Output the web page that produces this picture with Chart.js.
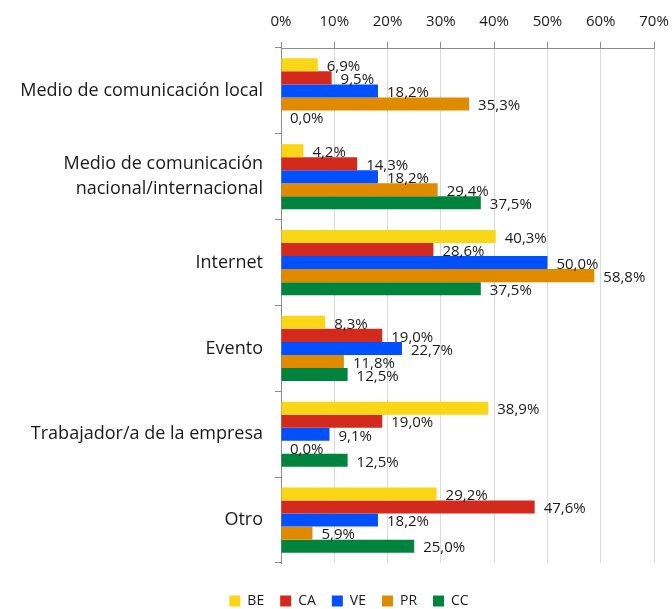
<!DOCTYPE html>
<html lang="es">
<head>
    <meta charset="UTF-8">
    <title>Medios</title>
    <script src="https://cdn.jsdelivr.net/npm/chart.js"></script>
    <style>
        body {
            margin: 0;
            background-color: #ffffff;
        }
        canvas {
            display: block;
        }
    </style>
</head>
<body>
    <canvas id="mediosChart" width="672" height="609"></canvas>

    <script>
        // categories (y axis)
        const categories = [
            'Medio de comunicación local',
            ['Medio de comunicación', 'nacional/internacional'],
            'Internet',
            'Evento',
            'Trabajador/a de la empresa',
            'Otro'
        ];

        // series values (%)
        const beValues = [6.9, 4.2, 40.3, 8.3, 38.9, 29.2];
        const caValues = [9.5, 14.3, 28.6, 19.0, 19.0, 47.6];
        const veValues = [18.2, 18.2, 50.0, 22.7, 9.1, 18.2];
        const prValues = [35.3, 29.4, 58.8, 11.8, 0.0, 5.9];
        const ccValues = [0.0, 37.5, 37.5, 12.5, 12.5, 25.0];

        const seriesNames = ['BE', 'CA', 'VE', 'PR', 'CC'];
        const seriesColors = ['#f9d616', '#d42a1e', '#0050ff', '#e08a00', '#00843d'];

        // x axis ticks
        const xTickMax = 70;
        const xTickStep = 10;

        const fontFamily = "'Open Sans', 'Noto Sans', sans-serif";

        // draws "6,9%" style labels at the end of each bar
        const barValueLabels = {
            id: 'barValueLabels',
            afterDatasetsDraw(chart) {
                const ctx = chart.ctx;
                ctx.save();
                ctx.font = '15px ' + fontFamily;
                ctx.fillStyle = '#1a1a1a';
                ctx.textAlign = 'left';
                ctx.textBaseline = 'middle';
                chart.data.datasets.forEach((ds, i) => {
                    const meta = chart.getDatasetMeta(i);
                    meta.data.forEach((bar, j) => {
                        const txt = ds.data[j].toFixed(1).replace('.', ',') + '%';
                        ctx.fillText(txt, bar.x + 9, bar.y + 2);
                    });
                });
                ctx.restore();
            }
        };

        // nudge the legend a bit lower and to the right, like the original
        const legendNudge = {
            id: 'legendNudge',
            afterLayout(chart) {
                const lg = chart.legend;
                if (!lg) return;
                lg.left += 22;
                lg.right += 22;
                lg.top += 15;
                lg.bottom += 15;
            }
        };

        const allSeries = [beValues, caValues, veValues, prValues, ccValues];

        const mediosChart = new Chart(document.getElementById('mediosChart').getContext('2d'), {
            type: 'bar',
            data: {
                labels: categories,
                datasets: allSeries.map((vals, i) => ({
                    label: seriesNames[i],
                    data: vals,
                    backgroundColor: seriesColors[i],
                    borderWidth: 0,
                    categoryPercentage: 0.76,
                    barPercentage: 1.0
                }))
            },
            options: {
                indexAxis: 'y',
                responsive: false,
                devicePixelRatio: 1,
                animation: false,
                layout: {
                    padding: { left: 0, right: 18, top: 0, bottom: 6 }
                },
                plugins: {
                    legend: {
                        display: true,
                        position: 'bottom',
                        labels: {
                            color: '#1a1a1a',
                            boxWidth: 11,
                            boxHeight: 11,
                            padding: 16,
                            font: { family: fontFamily, size: 14 }
                        }
                    },
                    tooltip: { enabled: false }
                },
                scales: {
                    x: {
                        position: 'top',
                        min: 0,
                        max: xTickMax,
                        ticks: {
                            stepSize: xTickStep,
                            color: '#1a1a1a',
                            padding: 11,
                            maxRotation: 0,
                            font: { family: fontFamily, size: 15 },
                            callback: v => v + '%'
                        },
                        grid: {
                            color: '#dadada',
                            tickColor: '#8c8c8c',
                            tickLength: 6
                        },
                        border: { color: '#8c8c8c', width: 1 },
                        afterFit: scale => {
                            scale.height = 48;
                            scale.paddingLeft = 0;
                            scale.paddingRight = 0;
                        }
                    },
                    y: {
                        ticks: {
                            color: '#1a1a1a',
                            padding: 12,
                            font: { family: fontFamily, size: 18, lineHeight: 1.39 }
                        },
                        grid: {
                            drawOnChartArea: false,
                            tickColor: '#8c8c8c',
                            tickLength: 6,
                            offset: true
                        },
                        border: { color: '#8c8c8c', width: 1 },
                        afterFit: scale => { scale.width = 281; }
                    }
                }
            },
            plugins: [barValueLabels, legendNudge]
        });
    </script>
</body>
</html>
